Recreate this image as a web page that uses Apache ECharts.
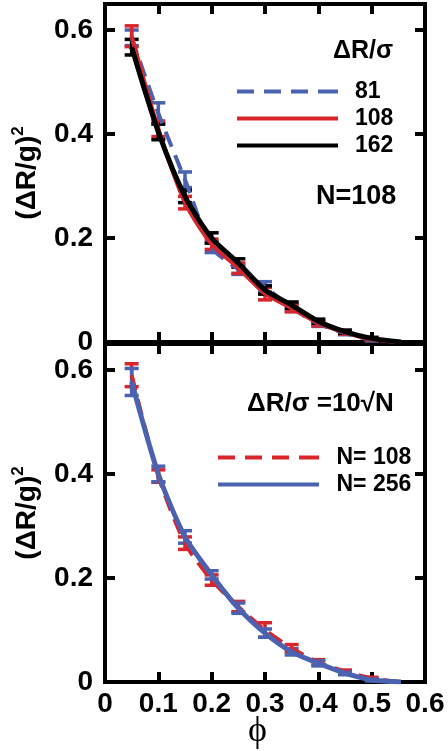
<!DOCTYPE html>
<html><head><meta charset="utf-8">
<script src="https://cdn.jsdelivr.net/npm/echarts@6/dist/echarts.min.js"></script>
<style>html,body{margin:0;padding:0;background:#fff}#c{width:448px;height:751px}</style>
</head><body><div id="c"></div>
<script>
// ---- data ----
const phi = [0.05, 0.10, 0.15, 0.20, 0.25, 0.30, 0.35, 0.40, 0.45, 0.50, 0.555];
// top panel, N=108, varying ΔR/σ
const top81  = [0.585, 0.440, 0.312, 0.182, 0.140, 0.106, 0.066, 0.035, 0.017, 0.004, 0.000];
const top81e = [0.015, 0.020, 0.015, 0.010, 0.010, 0.010, 0.007, 0.005, 0.003, 0.002, 0];
const top108  = [0.588, 0.410, 0.268, 0.188, 0.142, 0.093, 0.065, 0.036, 0.018, 0.005, 0.000];
const top108e = [0.020, 0.015, 0.012, 0.010, 0.010, 0.012, 0.007, 0.005, 0.003, 0.002, 0];
const top162  = [0.567, 0.404, 0.280, 0.200, 0.152, 0.100, 0.071, 0.040, 0.020, 0.007, 0.000];
const top162e = [0.015, 0.015, 0.012, 0.010, 0.008, 0.008, 0.006, 0.004, 0.003, 0.002, 0];
// bottom panel, ΔR/σ = 10√N
const bot108  = [0.590, 0.396, 0.267, 0.196, 0.145, 0.100, 0.065, 0.038, 0.020, 0.007, 0.000];
const bot108e = [0.022, 0.012, 0.012, 0.010, 0.010, 0.014, 0.007, 0.005, 0.003, 0.002, 0];
const bot256  = [0.577, 0.400, 0.279, 0.206, 0.142, 0.094, 0.058, 0.036, 0.017, 0.004, 0.000];
const bot256e = [0.026, 0.015, 0.012, 0.008, 0.010, 0.008, 0.006, 0.005, 0.003, 0.002, 0];
const xTicks = [0, 0.1, 0.2, 0.3, 0.4, 0.5, 0.6];
const yTicks = [0, 0.2, 0.4, 0.6];

const RED = '#d7262c', BLUE = '#4a62b0', BLACK = '#000';
const FONT = 'Liberation Sans';

function pairs(ys){ return phi.map((x,i)=>[x, ys[i]]); }
function triples(ys, es){ return phi.map((x,i)=>[x, ys[i], es[i]]); }

function lineSeries(name, ys, color, width, type, axis){
  return {name, type:'line', xAxisIndex:axis*2, yAxisIndex:axis*2, data:pairs(ys),
    symbol:'none', smooth:0.25, lineStyle:{color, width, type}, itemStyle:{color}, z:3};
}
function errSeries(name, ys, es, color, axis){
  return {name, type:'custom', xAxisIndex:axis*2, yAxisIndex:axis*2, data:triples(ys, es), z:2,
    renderItem(params, api){
      const x=api.value(0), y=api.value(1), e=api.value(2);
      if(!e) return;
      const a=api.coord([x, y+e]), b=api.coord([x, y-e]);
      const w=7, st={stroke:color, lineWidth:3.5};
      return {type:'group', children:[
        {type:'line', shape:{x1:a[0],y1:a[1],x2:b[0],y2:b[1]}, style:st},
        {type:'line', shape:{x1:a[0]-w,y1:a[1],x2:a[0]+w,y2:a[1]}, style:st},
        {type:'line', shape:{x1:b[0]-w,y1:b[1],x2:b[0]+w,y2:b[1]}, style:st}
      ]};
    }};
}

const axisLine = {show:true, onZero:false, lineStyle:{color:'#000', width:4, cap:'square'}};
const axisTick = {show:true, inside:true, length:10, lineStyle:{color:'#000', width:4}};
function xAx(grid, pos, labels){
  return {type:'value', gridIndex:grid, position:pos, min:xTicks[0], max:xTicks[xTicks.length-1], interval:0.1,
    axisLine, axisTick, splitLine:{show:false},
    axisLabel:{show:labels, color:'#000', fontFamily:FONT, fontWeight:'bold', fontSize:28, margin:8}};
}
function yAx(grid, pos, labels){
  return {type:'value', gridIndex:grid, position:pos, min:0, max:0.65, interval:0.2,
    axisLine, axisTick, splitLine:{show:false},
    name: labels ? '{m|(ΔR/g)}{s|2}' : '', nameLocation:'middle', nameRotate:90, nameGap:54,
    nameTextStyle:{rich:{
      m:{fontFamily:FONT, fontWeight:'bold', fontSize:28, color:'#000', lineHeight:34},
      s:{fontFamily:FONT, fontWeight:'bold', fontSize:17, color:'#000', lineHeight:34, verticalAlign:'top', padding:[0,0,16,0]}
    }},
    axisLabel:{show:labels, showMaxLabel:false, color:'#000', fontFamily:FONT, fontWeight:'bold', fontSize:28, margin:12,
      formatter:v=> yTicks.includes(Math.round(v*100)/100) ? String(Math.round(v*10)/10) : ''}};
}

const legendText = {color:'#000', fontFamily:FONT, fontWeight:'bold', fontSize:23, lineHeight:27, padding:[0,0,0,12]};
const SOLID = 'path://M0,0h101v4h-101z';
const DASH = 'path://M0,0h17v4h-17z M27,0h17v4h-17z M54,0h17v4h-17z M81,0h20v4h-20z';

const option = {
  animation:false,
  grid:[
    {left:105, width:320, top:4, height:338},
    {left:105, width:320, top:344, height:338}
  ],
  xAxis:[xAx(0,'bottom',false), xAx(0,'top',false), xAx(1,'bottom',true), xAx(1,'top',false)],
  yAxis:[yAx(0,'left',true), yAx(0,'right',false), yAx(1,'left',true), yAx(1,'right',false)],
  legend:[
    {data:[{name:'81', icon:DASH}, {name:'108', icon:SOLID}, {name:'162', icon:SOLID}],
      orient:'vertical', left:237, top:78, padding:0, itemWidth:101, itemHeight:4, itemGap:0,
      textStyle:legendText, selectedMode:false},
    {data:[{name:'N= 108', icon:DASH}, {name:'N= 256', icon:SOLID}],
      orient:'vertical', left:218, top:444, padding:0, itemWidth:102, itemHeight:4, itemGap:0,
      textStyle:legendText, selectedMode:false}
  ],
  graphic:[
    {type:'text', left:333, top:39, style:{text:'ΔR/σ', font:'bold 25px "Liberation Sans"', fill:'#000'}},
    {type:'text', left:316, top:183, style:{text:'N=108', font:'bold 27px "Liberation Sans"', fill:'#000'}},
    {type:'text', left:247, top:391, style:{text:'ΔR/σ =10√N', font:'bold 26px "Liberation Sans"', fill:'#000'}},
    {type:'text', left:248, top:714, style:{text:'ϕ', font:'36px "Liberation Serif"', fill:'#000'}}
  ],
  series:[
    errSeries('e81', top81, top81e, BLUE, 0),
    errSeries('e108', top108, top108e, RED, 0),
    errSeries('e162', top162, top162e, BLACK, 0),
    lineSeries('81', top81, BLUE, 4, [16,9], 0),
    lineSeries('108', top108, RED, 4, 'solid', 0),
    lineSeries('162', top162, BLACK, 5, 'solid', 0),
    errSeries('eb108', bot108, bot108e, RED, 1),
    errSeries('eb256', bot256, bot256e, BLUE, 1),
    lineSeries('N= 108', bot108, RED, 4, [16,9], 1),
    lineSeries('N= 256', bot256, BLUE, 5, 'solid', 1)
  ]
};
const chart = echarts.init(document.getElementById('c'), null, {renderer:'canvas'});
chart.setOption(option);
</script></body></html>
